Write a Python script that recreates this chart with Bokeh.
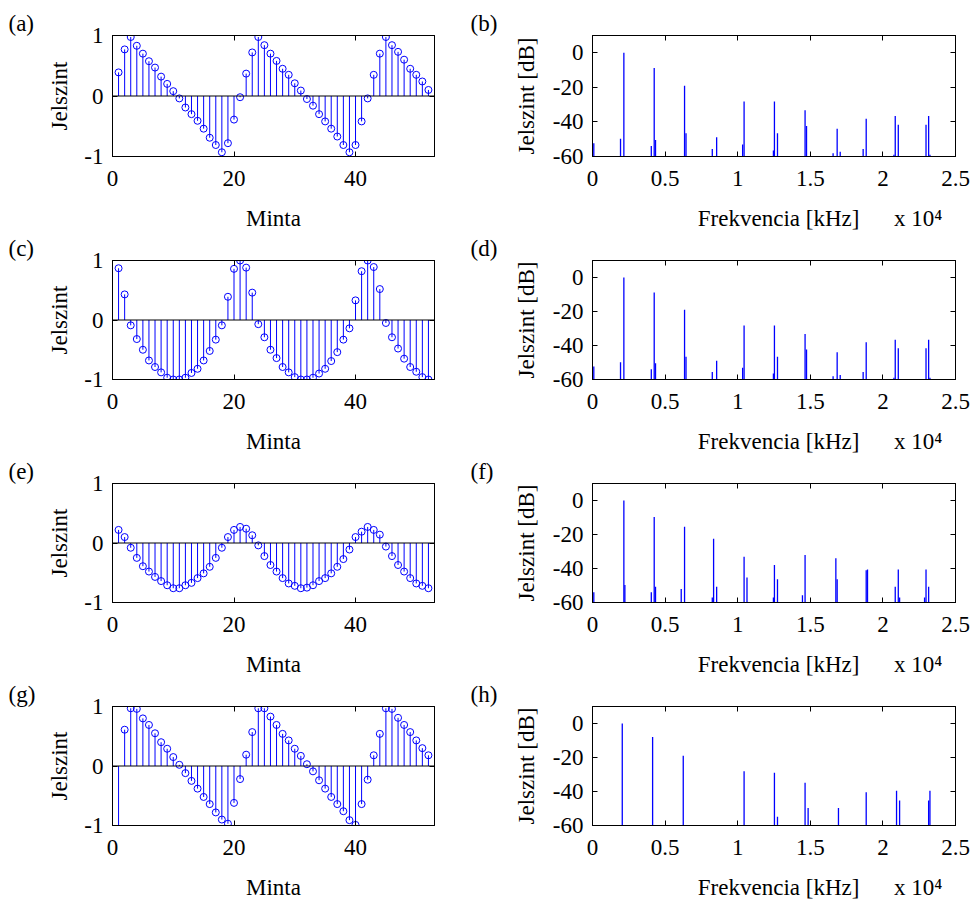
from bokeh.plotting import figure
from bokeh.models import Span, LinearAxis, FixedTicker, Range1d, Title
from bokeh.layouts import gridplot
from bokeh.embed import file_html
from bokeh.resources import INLINE

# ---------------- data ----------------
samples = list(range(1, 53))

a_vals = [0.39, 0.77, 0.975, 0.83, 0.70, 0.575, 0.47, 0.32, 0.20, 0.08, -0.04, -0.19, -0.30,
          -0.41, -0.54, -0.69, -0.81, -0.93, -0.78, -0.39, -0.02, 0.37, 0.72, 0.975, 0.84, 0.70,
          0.58, 0.45, 0.35, 0.21, 0.09, -0.05, -0.16, -0.30, -0.42, -0.54, -0.67, -0.81, -0.93,
          -0.81, -0.42, -0.04, 0.35, 0.70, 0.975, 0.84, 0.73, 0.60, 0.45, 0.35, 0.24, 0.10]

c_vals = [0.87, 0.43, -0.09, -0.32, -0.50, -0.68, -0.79, -0.88, -0.97, -1.0, -1.0, -0.97, -0.89,
          -0.82, -0.68, -0.52, -0.33, -0.09, 0.39, 0.86, 1.0, 0.88, 0.46, -0.07, -0.29, -0.50,
          -0.64, -0.79, -0.88, -0.96, -1.0, -1.0, -0.97, -0.90, -0.82, -0.69, -0.54, -0.33, -0.14,
          0.33, 0.82, 1.0, 0.89, 0.52, -0.05, -0.29, -0.48, -0.65, -0.79, -0.87, -0.96, -1.0]

e_vals = [0.22, 0.10, -0.08, -0.25, -0.39, -0.48, -0.57, -0.64, -0.71, -0.76, -0.76, -0.71, -0.67,
          -0.59, -0.51, -0.40, -0.25, -0.08, 0.10, 0.22, 0.27, 0.24, 0.13, -0.04, -0.22, -0.37,
          -0.48, -0.59, -0.68, -0.72, -0.76, -0.75, -0.71, -0.64, -0.59, -0.51, -0.40, -0.27, -0.11,
          0.10, 0.19, 0.27, 0.22, 0.14, -0.06, -0.22, -0.37, -0.48, -0.59, -0.68, -0.72, -0.76]

g_vals = [-1.2, 0.61, 0.97, 0.96, 0.80, 0.69, 0.55, 0.40, 0.29, 0.15, 0.02, -0.12, -0.25,
          -0.38, -0.52, -0.64, -0.78, -0.90, -0.97, -0.62, -0.22, 0.19, 0.57, 0.97, 0.97, 0.83,
          0.69, 0.54, 0.43, 0.29, 0.17, 0.03, -0.09, -0.24, -0.38, -0.52, -0.64, -0.76, -0.91,
          -0.99, -0.64, -0.23, 0.18, 0.54, 0.97, 0.96, 0.81, 0.69, 0.57, 0.43, 0.30, 0.18]

b_freq = [0.009, 0.193, 0.216, 0.405, 0.425, 0.434, 0.634, 0.644, 0.825, 0.855, 1.034, 1.044,
          1.246, 1.253, 1.274, 1.464, 1.474, 1.657, 1.685, 1.706, 1.864, 1.885, 2.076, 2.085,
          2.106, 2.297, 2.315, 2.324]
b_db = [-52.3, -49.8, 0.0, -53.9, -8.8, -50.4, -19.0, -46.6, -55.6, -48.9, -53.1, -28.2,
        -56.5, -28.2, -46.6, -33.2, -42.4, -58.1, -43.9, -57.3, -55.6, -38.1, -59.0, -36.6,
        -41.6, -41.6, -36.6, -59.0]

d_freq = [0.009, 0.193, 0.216, 0.405, 0.425, 0.434, 0.634, 0.644, 0.825, 0.855, 1.034, 1.044,
          1.246, 1.253, 1.274, 1.464, 1.474, 1.657, 1.685, 1.706, 1.864, 1.885, 2.076, 2.085,
          2.106, 2.297, 2.315, 2.324]
d_db = [-52.3, -49.8, 0.0, -53.9, -8.8, -50.4, -19.0, -46.6, -55.6, -48.9, -53.1, -28.2,
        -56.5, -28.2, -46.6, -33.2, -42.4, -58.1, -43.9, -57.3, -55.6, -38.1, -59.0, -36.6,
        -41.6, -41.6, -36.6, -59.0]

f_freq = [0.009, 0.216, 0.223, 0.405, 0.425, 0.434, 0.611, 0.634, 0.825, 0.834, 0.855, 1.044,
          1.064, 1.246, 1.253, 1.274, 1.446, 1.464, 1.676, 1.685, 1.885, 1.894, 2.085, 2.106,
          2.115, 2.287, 2.297, 2.315]
f_db = [-53.9, 0.0, -49.7, -53.9, -9.7, -50.7, -52.0, -15.4, -57.1, -22.5, -50.7, -33.1,
        -45.3, -57.1, -37.9, -46.3, -55.8, -32.0, -33.9, -46.3, -41.1, -40.6, -50.7, -40.6,
        -57.1, -57.1, -40.6, -50.7]

h_freq = [0.205, 0.414, 0.625, 1.044, 1.253, 1.274, 1.464, 1.485, 1.694, 1.885, 2.094, 2.115,
          2.315, 2.324]
h_db = [0.0, -8.0, -18.9, -28.1, -28.9, -54.8, -34.8, -49.7, -49.7, -40.5, -39.6, -45.3,
        -45.3, -39.6]

sample_ticks = [0, 20, 40]
sample_tick_labels = ["0", "20", "40"]
level_ticks = [-1, 0, 1]
level_tick_labels = ["-1", "0", "1"]
freq_ticks = [0, 0.5, 1, 1.5, 2, 2.5]
freq_tick_labels = ["0", "0.5", "1", "1.5", "2", "2.5"]
db_ticks = [-60, -40, -20, 0]
db_tick_labels = ["-60", "-40", "-20", "0"]

panel_names = ["(a)", "(b)", "(c)", "(d)", "(e)", "(f)", "(g)", "(h)"]
time_xlabel = "Minta"
time_ylabel = "Jelszint"
freq_xlabel = "Frekvencia [kHz]"
freq_ylabel = "Jelszint [dB]"
freq_scale_note = "x 10\u2074"

# ---------------- style ----------------
FONT = "Liberation Serif"
FS = "23px"
BLUE = "#0000ff"
NB = "\u00a0"

LEFT_W, RIGHT_W = 465, 506
TOP_FIRST, TOP_OTHER, BOTTOM = 35, 25, 77
FRAME_H = 121
ROW_H_FIRST = TOP_FIRST + FRAME_H + BOTTOM
ROW_H = TOP_OTHER + FRAME_H + BOTTOM


def base_fig(width, height, xr, yr, top, left, right):
    p = figure(width=width, height=height, x_range=Range1d(*xr), y_range=Range1d(*yr),
               output_backend="svg", toolbar_location=None,
               min_border_left=left, min_border_right=right,
               min_border_top=top, min_border_bottom=BOTTOM)
    p.grid.visible = False
    p.outline_line_color = "black"
    p.outline_line_width = 1
    p.background_fill_color = "white"
    p.border_fill_color = "white"
    return p


def style_axis(ax, ticks, labels=None):
    ax.ticker = FixedTicker(ticks=ticks)
    ax.major_tick_in = 5
    ax.major_tick_out = 0
    ax.major_tick_line_color = "black"
    ax.minor_tick_line_color = None
    ax.axis_line_color = "black"
    ax.major_label_text_font = FONT
    ax.axis_label_text_font = FONT
    ax.axis_label_text_font_style = "normal"
    ax.axis_label_text_font_size = FS
    ax.axis_label_text_color = "black"
    if labels is not None:
        ax.major_label_overrides = dict(zip(ticks, labels))
        ax.major_label_text_font_size = FS
        ax.major_label_text_color = "black"
    else:
        ax.major_label_overrides = {t: "" for t in ticks}
        ax.major_label_text_font_size = "1px"
        ax.major_label_text_color = None
        ax.major_label_standoff = 0


def add_mirror_axes(p, xticks, yticks):
    top = LinearAxis()
    style_axis(top, xticks)
    p.add_layout(top, "above")
    right = LinearAxis()
    style_axis(right, yticks)
    p.add_layout(right, "right")


def add_panel_title(p, name, offset):
    p.add_layout(Title(text=name, align="left", offset=offset, standoff=0,
                       text_font=FONT, text_font_size=FS, text_font_style="normal",
                       text_color="black"), "above")


def style_bottom_left(p):
    p.xaxis[0].major_label_standoff = 14
    p.xaxis[0].axis_label_standoff = 17


def time_panel(vals, name, first):
    h = ROW_H_FIRST if first else ROW_H
    top = TOP_FIRST if first else TOP_OTHER
    p = base_fig(LEFT_W, h, (0, 53), (-1, 1), top, 112, 31)
    style_axis(p.xaxis[0], sample_ticks, sample_tick_labels)
    style_axis(p.yaxis[0], level_ticks, level_tick_labels)
    style_bottom_left(p)
    p.yaxis[0].major_label_standoff = 9
    p.yaxis[0].axis_label_standoff = 9
    p.xaxis[0].axis_label = time_xlabel
    p.yaxis[0].axis_label = time_ylabel
    add_mirror_axes(p, sample_ticks, level_ticks)
    add_panel_title(p, name, -104)
    p.segment(x0=samples, y0=0, x1=samples, y1=vals, line_color=BLUE, line_width=1)
    p.scatter(samples, vals, marker="circle", size=7, fill_color=None,
              line_color=BLUE, line_width=1)
    p.add_layout(Span(location=0, dimension="width", line_color="black", line_width=1))
    return p


def freq_panel(freq, db, name, first):
    h = ROW_H_FIRST if first else ROW_H
    top = TOP_FIRST if first else TOP_OTHER
    p = base_fig(RIGHT_W, h, (0, 2.5), (-60, 10), top, 127, 16)
    style_axis(p.xaxis[0], freq_ticks, freq_tick_labels)
    style_axis(p.yaxis[0], db_ticks, db_tick_labels)
    style_bottom_left(p)
    p.yaxis[0].major_label_standoff = 9
    p.yaxis[0].axis_label_standoff = 11
    # the axis label carries the "x 10^4" scale note on its right; the padding on the
    # left keeps "Frekvencia [kHz]" centred under the frame
    p.xaxis[0].axis_label = NB * 16 + freq_xlabel + NB * 6 + freq_scale_note
    p.yaxis[0].axis_label = freq_ylabel
    add_mirror_axes(p, freq_ticks, db_ticks)
    add_panel_title(p, name, -122)
    floor = p.y_range.start
    p.segment(x0=freq, y0=floor, x1=freq, y1=db, line_color=BLUE, line_width=1.3)
    return p


pa = time_panel(a_vals, panel_names[0], True)
pb = freq_panel(b_freq, b_db, panel_names[1], True)
pc = time_panel(c_vals, panel_names[2], False)
pd = freq_panel(d_freq, d_db, panel_names[3], False)
pe = time_panel(e_vals, panel_names[4], False)
pf = freq_panel(f_freq, f_db, panel_names[5], False)
pg = time_panel(g_vals, panel_names[6], False)
ph = freq_panel(h_freq, h_db, panel_names[7], False)

grid = gridplot([[pa, pb], [pc, pd], [pe, pf], [pg, ph]], toolbar_location=None)

open("out.html", "w").write(file_html(grid, INLINE, title="Jelszint"))
